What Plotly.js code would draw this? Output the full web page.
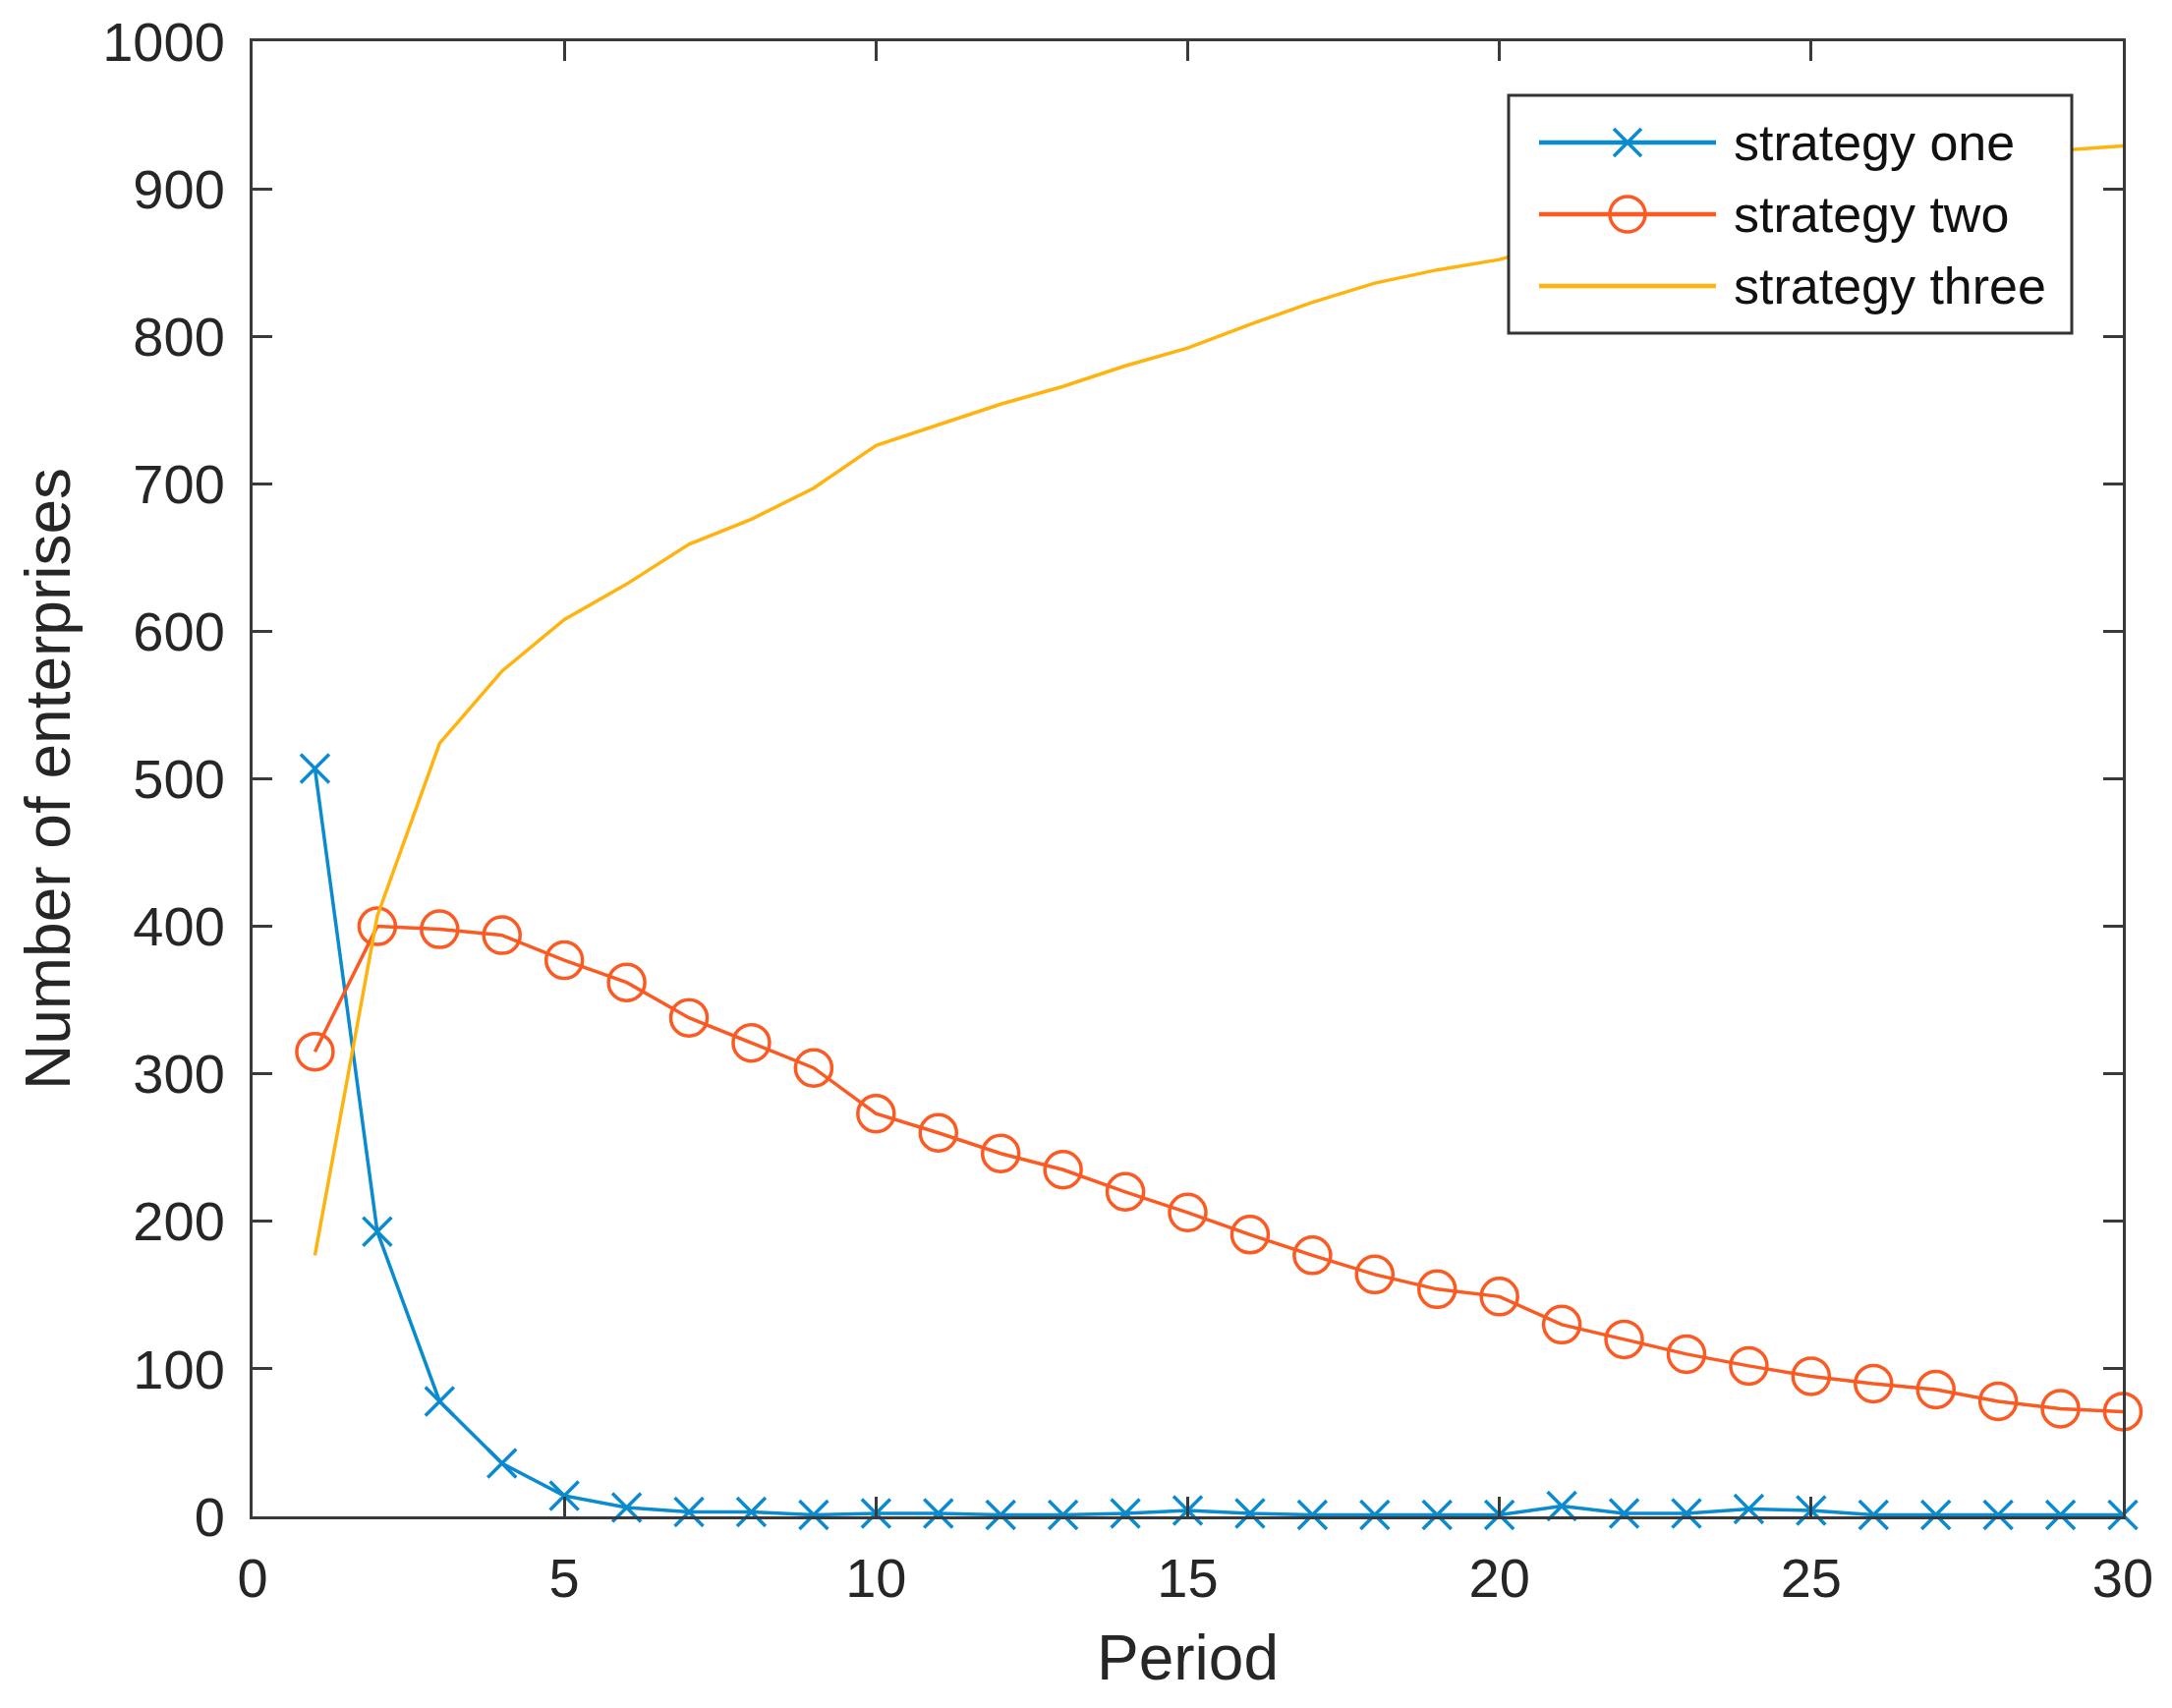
<!DOCTYPE html>
<html>
<head>
<meta charset="utf-8">
<script src="https://cdn.plot.ly/plotly-3.0.1.min.js"></script>
<style>
  html, body { margin: 0; padding: 0; background: #fff; }
  #chart { width: 2210px; height: 1738px; }
</style>
</head>
<body>
<div id="chart"></div>
<script>
// values
let period = [1, 2, 3, 4, 5, 6, 7, 8, 9, 10, 11, 12, 13, 14, 15,
              16, 17, 18, 19, 20, 21, 22, 23, 24, 25, 26, 27, 28, 29, 30];
let strategy_one = [507, 193, 78, 36, 14, 6, 3, 3, 1, 2, 2, 1, 1, 2, 4,
                    2, 1, 1, 1, 1, 7, 2, 2, 5, 4, 1, 1, 1, 1, 1];
let strategy_two = [315, 400, 398, 394, 377, 362, 338, 321, 304, 273, 260, 246, 235, 220, 206,
                    191, 177, 164, 154, 149, 130, 120, 110, 102, 95, 90, 86, 78, 73, 71];
let strategy_three = [177, 407, 524, 573, 608, 632, 659, 676, 697, 726, 740, 754, 766, 780, 792,
                      808, 823, 836, 845, 852, 864, 878, 888, 893, 901, 909, 913, 921, 926, 929];
let series_names = ["strategy one", "strategy two", "strategy three"];
let series_colors = ["#0a8bcf", "#fb5a22", "#ffb30f"];

let font_family = "Liberation Sans, Arial, Helvetica, sans-serif";
let text_color = "#262626";

// plot area in pixels, used to place the hand-drawn legend
let plot_left = 257, plot_right = 2160, plot_top = 42, plot_bottom = 1543;

function px(x) {
    return (x - plot_left) / (plot_right - plot_left);
}

function py(y) {
    return (plot_bottom - y) / (plot_bottom - plot_top);
}

let data = [
    {
        x: period, y: strategy_one, name: series_names[0],
        type: "scatter", mode: "lines+markers", cliponaxis: false,
        line: { color: series_colors[0], width: 3.5 },
        marker: { symbol: "x-thin-open", size: 29, color: series_colors[0], line: { color: series_colors[0], width: 3.5 } }
    },
    {
        x: period, y: strategy_two, name: series_names[1],
        type: "scatter", mode: "lines+markers", cliponaxis: false,
        line: { color: series_colors[1], width: 3.5 },
        marker: { symbol: "circle-open", size: 37, color: series_colors[1], line: { color: series_colors[1], width: 3.5 } }
    },
    {
        x: period, y: strategy_three, name: series_names[2],
        type: "scatter", mode: "lines", cliponaxis: false,
        line: { color: series_colors[2], width: 3.5 }
    }
];

// legend box, drawn with shapes so the sample lines are as long as in the figure
let leg = { x0: 1535, x1: 2108, y0: 97, y1: 339, rows: [145, 218, 291], lx0: 1566, lx1: 1746, tx: 1762 };
let lx_mid = (leg.lx0 + leg.lx1) / 2;
let shapes = [
    {
        type: "rect", xref: "paper", yref: "paper", layer: "above",
        x0: px(leg.x0), x1: px(leg.x1), y0: py(leg.y1), y1: py(leg.y0),
        fillcolor: "#ffffff", line: { color: "#333333", width: 3 }
    }
];
let annotations = [];
for (let k = 0; k < 3; k++) {
    let ry = leg.rows[k];
    shapes.push({
        type: "line", xref: "paper", yref: "paper", layer: "above",
        x0: px(leg.lx0), x1: px(leg.lx1), y0: py(ry), y1: py(ry),
        line: { color: series_colors[k], width: 4.5 }
    });
    annotations.push({
        xref: "paper", yref: "paper", x: px(leg.tx), y: py(ry), xanchor: "left", yanchor: "middle",
        text: series_names[k], showarrow: false,
        font: { family: font_family, size: 52, color: "#111111" }
    });
}
// x symbol for strategy one
let xs = 14;
shapes.push({
    type: "line", xref: "paper", yref: "paper", layer: "above",
    x0: px(lx_mid - xs), x1: px(lx_mid + xs), y0: py(leg.rows[0] - xs), y1: py(leg.rows[0] + xs),
    line: { color: series_colors[0], width: 3.5 }
});
shapes.push({
    type: "line", xref: "paper", yref: "paper", layer: "above",
    x0: px(lx_mid - xs), x1: px(lx_mid + xs), y0: py(leg.rows[0] + xs), y1: py(leg.rows[0] - xs),
    line: { color: series_colors[0], width: 3.5 }
});
// circle symbol for strategy two
let cr = 18;
shapes.push({
    type: "circle", xref: "paper", yref: "paper", layer: "above",
    x0: px(lx_mid - cr), x1: px(lx_mid + cr), y0: py(leg.rows[1] + cr), y1: py(leg.rows[1] - cr),
    line: { color: series_colors[1], width: 3.5 }
});

let axis_common = {
    showline: true, linecolor: "#3a3a3a", linewidth: 3, mirror: "allticks",
    ticks: "inside", ticklen: 20, tickwidth: 3, tickcolor: "#3a3a3a",
    showgrid: false, zeroline: false, automargin: false,
    tickfont: { family: font_family, size: 56, color: text_color }
};

let layout = {
    width: 2210, height: 1738,
    paper_bgcolor: "#ffffff", plot_bgcolor: "#ffffff",
    margin: { l: plot_left, r: 2210 - plot_right, t: plot_top, b: 1738 - plot_bottom },
    showlegend: false,
    xaxis: Object.assign({}, axis_common, {
        range: [0, 30], tickvals: [0, 5, 10, 15, 20, 25, 30], ticklabelstandoff: 12,
        title: { text: "Period", standoff: 28, font: { family: font_family, size: 64, color: text_color } }
    }),
    yaxis: Object.assign({}, axis_common, {
        range: [0, 1000], dtick: 100, ticklabelstandoff: 14,
        title: { text: "Number of enterprises", standoff: 12, font: { family: font_family, size: 64, color: text_color } }
    }),
    shapes: shapes,
    annotations: annotations
};

Plotly.newPlot("chart", data, layout, { staticPlot: true });
</script>
</body>
</html>
